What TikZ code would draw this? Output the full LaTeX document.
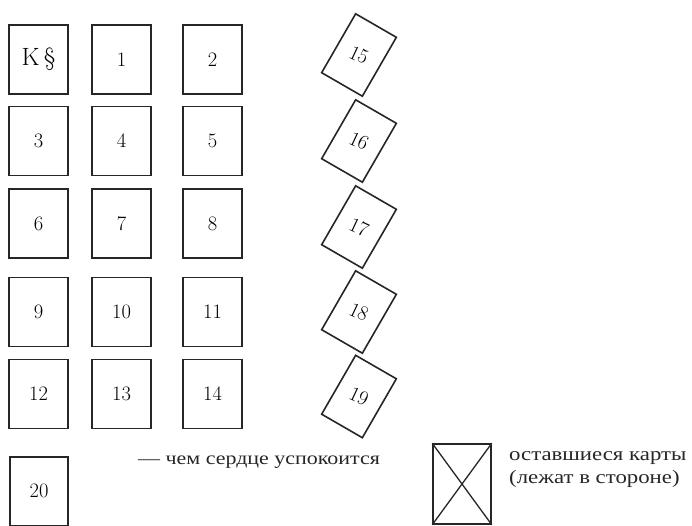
\documentclass[tikz,border=0pt]{standalone}
\usepackage{fontspec}
\newfontfamily\ru[FakeStretch=1.2]{Liberation Serif}
\tikzset{
  card/.style={draw=black!85, line width=1.6pt, minimum width=58.5pt, minimum height=69pt, inner sep=0pt, font=\fontsize{20.5}{20.5}\selectfont},
  tcardline/.style={draw=black!85, line width=1.6pt},
  tnum/.style={inner sep=0pt, rotate=-25, font=\fontsize{20.5}{20.5}\selectfont},
  xbox/.style={draw=black!85, line width=1.6pt, minimum width=58pt, minimum height=80pt, inner sep=0pt},
  lbl/.style={inner sep=0pt, font=\ru\fontsize{18.3}{23}\selectfont, text=black!85}
}
\begin{document}
\begin{tikzpicture}[x=1pt,y=-1pt]
\useasboundingbox (0,0) rectangle (692,525);
% grid
\node[card] (k)   at (38.5,59.3) {\fontsize{25}{25}\selectfont K\,\S};
\node[card] (c1)  at (121.5,59.3) {1};
\node[card] (c2)  at (212.5,59.3) {2};
\node[card] (c3)  at (38.5,141) {3};
\node[card] (c4)  at (121.5,141) {4};
\node[card] (c5)  at (212.5,141) {5};
\node[card] (c6)  at (38.5,223.7) {6};
\node[card] (c7)  at (121.5,223.7) {7};
\node[card] (c8)  at (212.5,223.7) {8};
\node[card] (c9)  at (38.5,312) {9};
\node[card] (c10) at (121.5,312) {10};
\node[card] (c11) at (212.5,312) {11};
\node[card] (c12) at (38.5,394) {12};
\node[card] (c13) at (121.5,394) {13};
\node[card] (c14) at (212.5,394) {14};
% tilted column
\foreach \yy/\num in {55/15, 141/16, 227/17, 312/18, 396.5/19}{
  \begin{scope}[shift={(359,\yy)}, rotate=-30]
    \draw[tcardline] (-23.5,-34) rectangle (23.5,34);
  \end{scope}
  \node[tnum] (n\num) at (359,\yy) {\num};
}
% bottom
\node[card] (c20) at (39,491.2) {20};
\node[lbl, anchor=west] (t20) at (138,462) {— чем сердце успокоится};
\node[xbox] (xb) at (462,484) {};
\draw[black!85, line width=1.3pt] (xb.north west) -- (xb.south east);
\draw[black!85, line width=1.3pt] (xb.north east) -- (xb.south west);
\node[lbl, anchor=west, align=left, font=\ru\fontsize{19}{23}\selectfont] (trest) at (509,469.5) {оставшиеся карты\\(лежат в стороне)};
\end{tikzpicture}
\end{document}
